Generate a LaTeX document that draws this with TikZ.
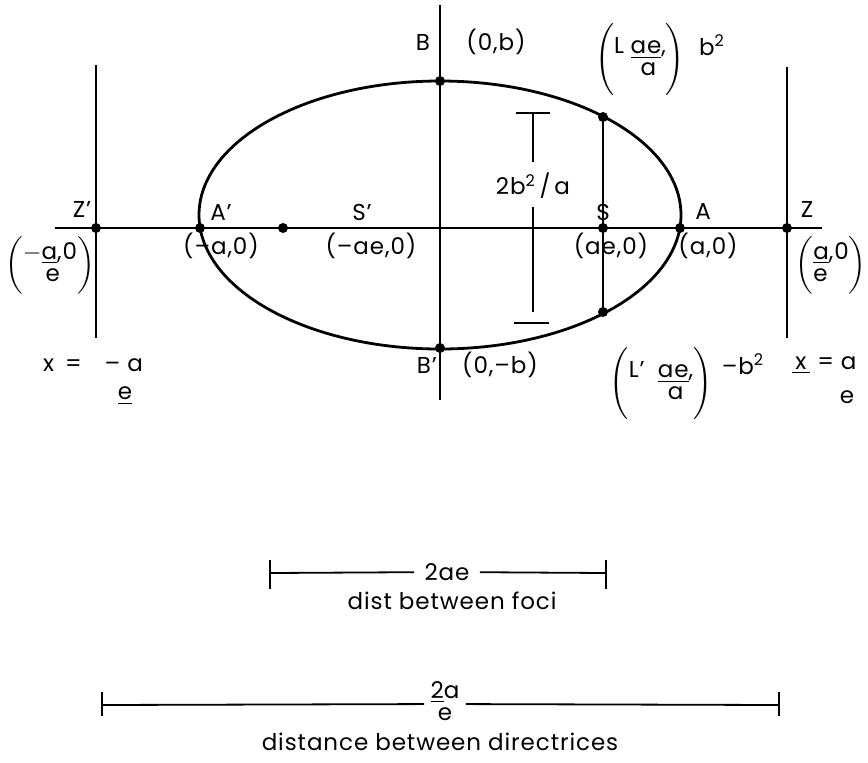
\documentclass[tikz,border=0pt]{standalone}
\usepackage{amsmath}
\usepackage{fontspec}
\setmainfont{Poppins}[LetterSpace=4]
\usetikzlibrary{positioning}
\newcommand{\tx}[1]{\text{#1}}
\renewcommand{\arraystretch}{0.85}

\begin{document}
\begin{tikzpicture}[
    x=0.5pt, y=-0.5pt,
    axis/.style={line width=1pt},
    curve/.style={line width=1.4pt},
    dot/.style={circle, fill, inner sep=0pt, minimum size=5pt},
    lbl/.style={inner sep=1pt, font=\fontsize{11.5}{13}\selectfont},
    dim/.style={line width=0.9pt}
]
  \useasboundingbox (0,0) rectangle (868,762);

  % axes and directrices
  \coordinate (xl) at (55,228);
  \coordinate (xr) at (822,228);
  \coordinate (yt) at (440,5);
  \coordinate (yb) at (440,400);
  \draw[axis] (xl) -- (xr);
  \draw[axis] (yt) -- (yb);
  \draw[axis] (96,65) -- (96,338);
  \draw[axis] (787,67) -- (787,338);

  \draw[curve] (440,215) ellipse [x radius=241, y radius=134];

  \node[dot] (Zp) at (96,228) {};
  \node[dot] (Ap) at (200,228) {};
  \node[dot] (Sp) at (283,228) {};
  \node[dot] (S) at (603,228) {};
  \node[dot] (A) at (680,228) {};
  \node[dot] (Z) at (787,228) {};
  \node[dot] (B) at (440,81) {};
  \node[dot] (Bp) at (440,348) {};
  \node[dot] (L) at (603,117) {};
  \node[dot] (Lp) at (603,312) {};
  \draw[axis] (L) -- (Lp);

  % latus rectum length
  \draw[dim] (516,113) -- (550,113);
  \node[lbl] (lr) at (533,186) {2b\textsuperscript{2}\,/\,a};
  \draw[dim] (533,113) -- (533,162);
  \draw[dim] (533,207) -- (533,312);
  \draw[dim] (514,323) -- (549,323);

  \node[lbl] at (82,209) {Z'};
  \node[lbl] at (221,212) {A'};
  \node[lbl] at (362,212) {S'};
  \node[lbl] at (603,212) {S};
  \node[lbl] at (703,212) {A};
  \node[lbl] at (807,209) {Z};
  \node[lbl] at (221,246) {(–a,0)};
  \node[lbl] at (371,246) {(–ae,0)};
  \node[lbl] at (611,246) {(ae,0)};
  \node[lbl] at (708,246) {(a,0)};
  \node[lbl] at (423,42) {B};
  \node[lbl] at (496,42) {(0,b)};
  \node[lbl] at (427,365) {B'};
  \node[lbl] at (500,365) {(0,–b)};

  \node[lbl, inner sep=0pt] (Zpco) at (50,265) {$\biggl(\begin{array}{@{}l@{}}{-}\underline{\tx{a}}\tx{,0}\\ \hphantom{-}\,\tx{e}\end{array}\biggr)$};
  \node[lbl, inner sep=0pt] (Zco) at (831,265) {$\biggl(\begin{array}{@{}l@{}}\underline{\tx{a}}\tx{,0}\\ \tx{e}\end{array}\biggr)$};

  \node[lbl, inner sep=0pt] (Lco) at (640,60) {$\Biggl(\begin{array}{@{}l@{\;}c@{}}\tx{L} & \underline{\tx{ae}}\tx{,}\\ & \tx{a}\end{array}\Biggr)$};
  \node[lbl] (Lsq) at (712,45) {b\textsuperscript{2}};
  \node[lbl, inner sep=0pt] (Lpco) at (661,384) {$\Biggl(\begin{array}{@{}l@{\;\;}c@{}}\tx{L'} & \underline{\tx{ae}}\tx{,}\\ & \tx{a}\end{array}\Biggr)$};
  \node[lbl] (Lpsq) at (743,364) {–b\textsuperscript{2}};

  \node[lbl] (dirl) at (93,365) {x\, =\quad – a};
  \node[lbl] (dirle) at (125,396) {\underline{e}};
  \node[lbl] (dirr) at (824,365) {\underline{\,x\,} = a};
  \node[lbl] (dirre) at (847,397) {e};

  % distance between foci
  \coordinate (f1) at (270,573);
  \coordinate (f2) at (606,573);
  \node[lbl, inner sep=5pt] (foci) at (447,572) {2ae};
  \draw[dim] (270,560) -- (270,589);
  \draw[dim] (606,560) -- (606,589);
  \draw[dim] (f1) -- (foci);
  \draw[dim] (foci) -- (f2);
  \node[lbl] at (452,601) {dist between foci};

  % distance between directrices
  \coordinate (d1) at (102,705);
  \coordinate (d2) at (779,705);
  \node[lbl, inner sep=3pt] (dirs) at (445,704) {$\begin{array}{@{}c@{}}\underline{\tx{2}}\tx{a}\\ \tx{e}\end{array}$};
  \draw[dim] (102,692) -- (102,716);
  \draw[dim] (779,692) -- (779,716);
  \draw[dim] (d1) -- (dirs);
  \draw[dim] (dirs) -- (d2);
  \node[lbl] at (440,742) {distance between directrices};
\end{tikzpicture}
\end{document}
